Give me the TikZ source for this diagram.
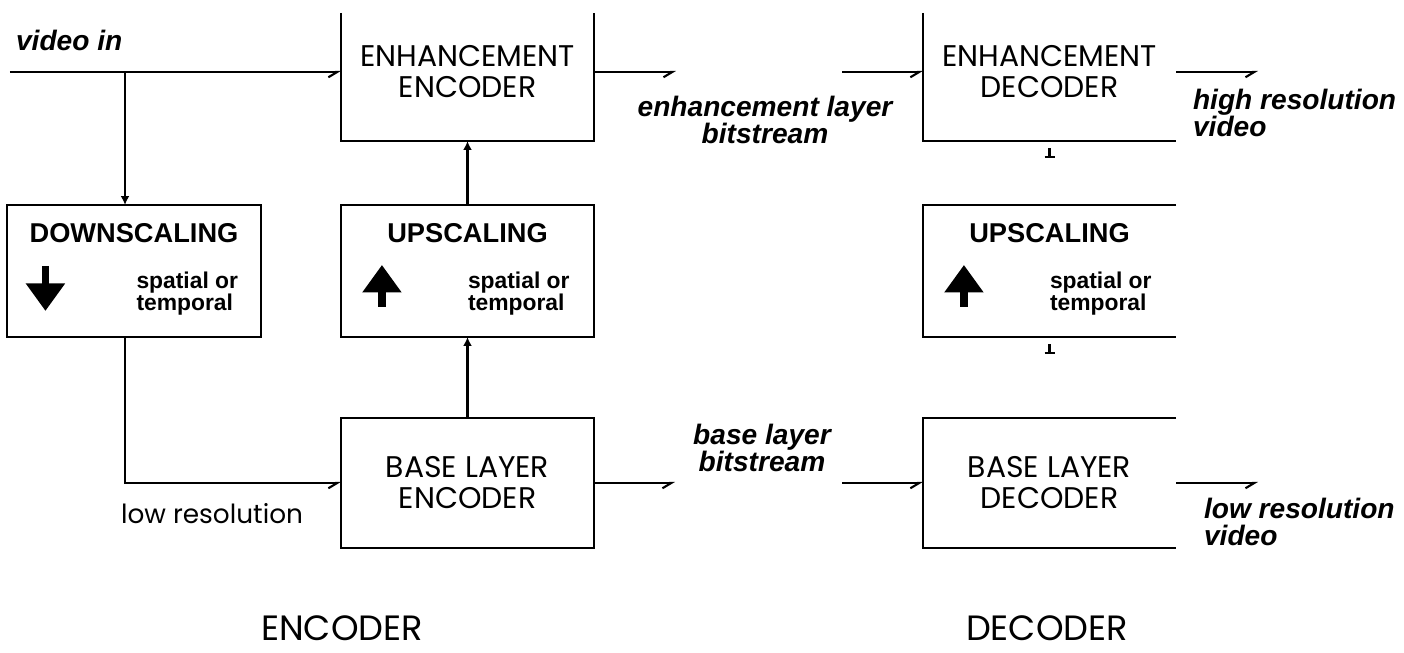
\documentclass[tikz,border=0pt]{standalone}
\usepackage{fontspec}
\setmainfont{Poppins}
\newfontfamily\lblfont{Liberation Sans}
\usetikzlibrary{calc,arrows.meta}

\tikzset{
  blk/.style={minimum width=5.02cm, minimum height=#1, align=center, inner sep=0pt, font=\fontsize{17}{17.6}\selectfont},
  blk/.default=2.6cm,
  ttl/.style={font=\lblfont\bfseries\fontsize{15.5}{16}\selectfont, inner sep=0pt, anchor=north},
  sml/.style={font=\lblfont\bfseries\fontsize{13}{12.5}\selectfont, align=left, inner sep=0pt, anchor=north west},
  ital/.style={font=\lblfont\bfseries\itshape\fontsize{16}{15.5}\selectfont, inner sep=0pt},
  hflow/.style={-{Straight Barb[right,length=5pt,width=6pt]}},
  vflow/.style={-{Latex[length=5pt,width=5pt]}},
  bigarr/.style={line width=0.15cm, -{Triangle[length=0.55cm,width=0.75cm]}},
}

\begin{document}
\begin{tikzpicture}[line width=1.2pt]
    \useasboundingbox (0,0) rectangle (28.08,-13.04);

    % blocks
    \node[blk=2.72cm] (encenh) at (9.35,-1.44) {ENHANCEMENT\\ENCODER};
    \node[blk=2.72cm] (decenh) at (20.99,-1.44) {ENHANCEMENT\\DECODER};
    \node[blk] (down) at (2.68,-5.42) {};
    \node[blk] (upenc) at (9.35,-5.42) {};
    \node[blk] (updec) at (20.99,-5.42) {};
    \node[blk=2.56cm] (baseenc) at (9.35,-9.66) {BASE LAYER\\ENCODER};
    \node[blk=2.56cm] (basedec) at (20.99,-9.66) {BASE LAYER\\DECODER};

    \draw ([yshift=-0.2cm]encenh.north west) |- (encenh.south east) -- ([yshift=-0.2cm]encenh.north east);
    \draw ([yshift=-0.2cm]decenh.north west) |- (decenh.south east);
    \draw (down.north west) rectangle (down.south east);
    \draw (upenc.north west) rectangle (upenc.south east);
    \draw (updec.north east) -| (updec.south west) -- (updec.south east);
    \draw (baseenc.north west) rectangle (baseenc.south east);
    \draw (basedec.north east) -| (basedec.south west) -- (basedec.south east);

    % scaling blocks
    \node[ttl] (down-t) at ([yshift=-0.34cm]down.north) {DOWNSCALING};
    \node[sml] (down-s) at ([xshift=2.56cm,yshift=-1.32cm]down.north west) {spatial or\\temporal};
    \draw[bigarr] ([xshift=0.76cm,yshift=-1.22cm]down.north west) -- ++(0,-0.9);
    \foreach \b in {upenc,updec} {
        \node[ttl] (\b-t) at ([yshift=-0.34cm]\b.north) {UPSCALING};
        \node[sml] (\b-s) at ([xshift=2.52cm,yshift=-1.32cm]\b.north west) {spatial or\\temporal};
        \draw[bigarr] ([xshift=0.82cm,yshift=-2.04cm]\b.north west) -- ++(0,0.84);
    }

    % encoder connections
    \coordinate (vin) at (0.2,-1.44);
    \coordinate (tap) at (2.5,-1.44);
    \node[ital, anchor=base west] (vidin) at (0.3,-1.0) {video in};
    \draw[hflow] (vin) -- (encenh.west);
    \draw[vflow] (tap) -- (tap |- down.north);
    \draw[hflow] (tap |- down.south) |- (baseenc.west);
    \draw[vflow] (baseenc.north) -- (upenc.south);
    \draw[vflow] (upenc.north) -- (encenh.south);
    \coordinate (enhout) at ($(encenh.east)+(1.64,0)$);
    \coordinate (baseout) at ($(baseenc.east)+(1.62,0)$);
    \draw[hflow] (encenh.east) -- (enhout);
    \draw[hflow] (baseenc.east) -- (baseout);
    \node[anchor=north west, inner sep=0pt, font=\fontsize{15}{18}\selectfont] (lowres) at (2.4,-10.04) {low resolution};

    % bitstreams
    \node[ital, anchor=north, align=center] (enhbits) at (15.3,-1.9) {enhancement layer\\bitstream};
    \node[ital, anchor=north, align=center] (basebits) at (15.24,-8.46) {base layer\\bitstream};

    % decoder connections
    \coordinate (enhin) at (16.84,-1.44);
    \coordinate (basein) at (16.84,-9.66);
    \coordinate (hiout) at ($(decenh.east)+(1.64,0)$);
    \coordinate (loout) at ($(basedec.east)+(1.64,0)$);
    \draw[hflow] (enhin) -- (decenh.west);
    \draw[hflow] (basein) -- (basedec.west);
    \draw[hflow] (decenh.east) -- (hiout);
    \draw[hflow] (basedec.east) -- (loout);
    \draw (decenh.south) ++(0,-0.14) -- ++(0,-0.18) ++(-0.1,0) -- ++(0.2,0);
    \draw (updec.south) ++(0,-0.14) -- ++(0,-0.18) ++(-0.1,0) -- ++(0.2,0);
    \node[ital, anchor=north west, align=left] (hires) at (23.84,-1.76) {high resolution\\video};
    \node[ital, anchor=north west, align=left] (lores) at (24.06,-9.94) {low resolution\\video};

    % titles
    \node[anchor=north, inner sep=0pt, font=\fontsize{20}{24}\selectfont] (enctitle) at (6.84,-12.3) {ENCODER};
    \node[anchor=north, inner sep=0pt, font=\fontsize{20}{24}\selectfont] (dectitle) at (20.94,-12.3) {DECODER};
\end{tikzpicture}
\end{document}
